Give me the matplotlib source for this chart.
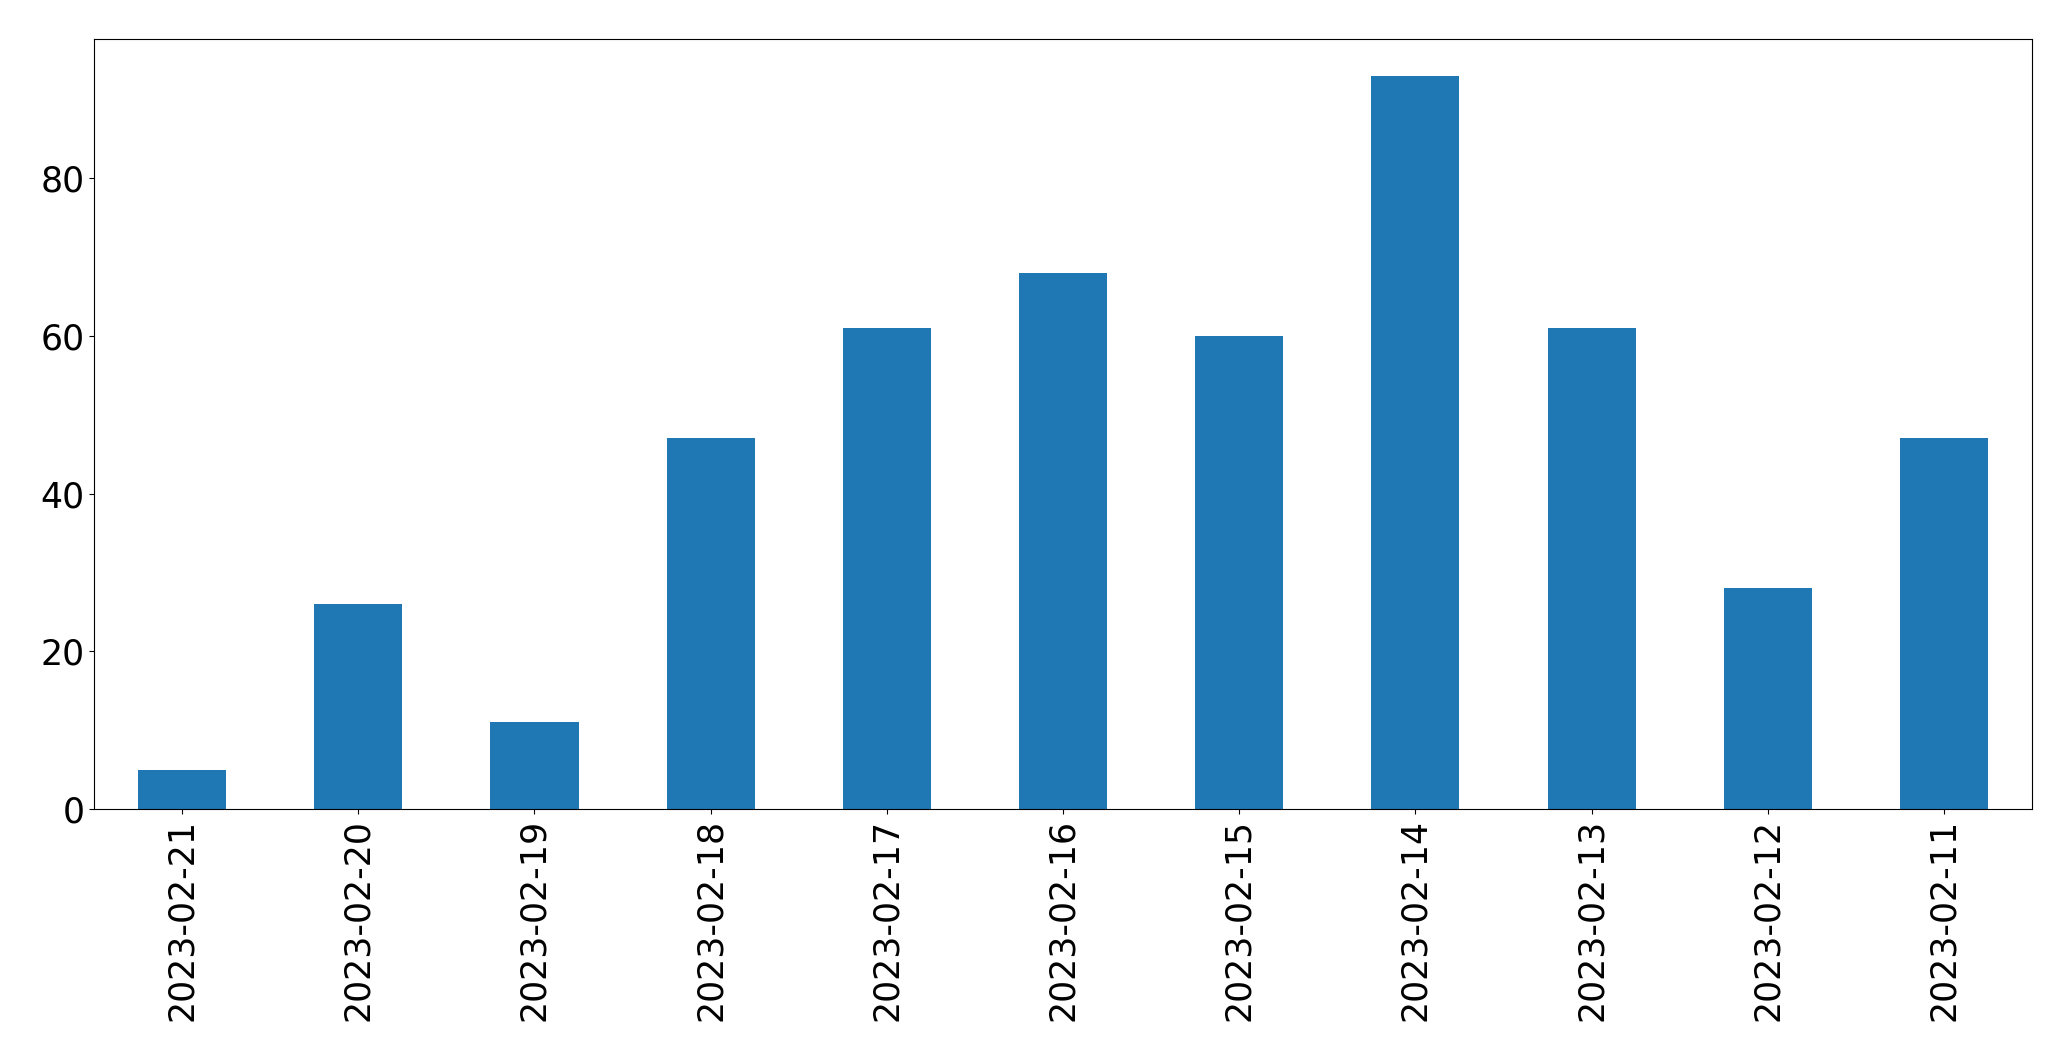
#!/usr/bin/env python3

import matplotlib
matplotlib.use("Agg")
import matplotlib.pyplot as plt

# daily counts, newest first
dates = ["2023-02-21", "2023-02-20", "2023-02-19", "2023-02-18", "2023-02-17",
         "2023-02-16", "2023-02-15", "2023-02-14", "2023-02-13", "2023-02-12",
         "2023-02-11"]
counts = [5, 26, 11, 47, 61, 68, 60, 93, 61, 28, 47]


def main(out_png="out.png"):
    fig, ax = plt.subplots(figsize=(20.71, 10.61), dpi=100)
    fig.subplots_adjust(left=0.0454, right=0.9812, top=0.9632, bottom=0.2375)

    x = range(len(dates))
    ax.bar(x, counts, width=0.5, color="#1f77b4")
    ax.set_xlim(-0.5, len(dates) - 0.5)
    ax.set_ylim(0, max(counts) * 1.05)

    ax.set_xticks(list(x))
    ax.set_xticklabels(dates, rotation=90)
    ax.set_yticks([0, 20, 40, 60, 80])
    ax.tick_params(axis="both", labelsize=25)

    fig.savefig(out_png, dpi=100)


if __name__ == "__main__":
    main()
